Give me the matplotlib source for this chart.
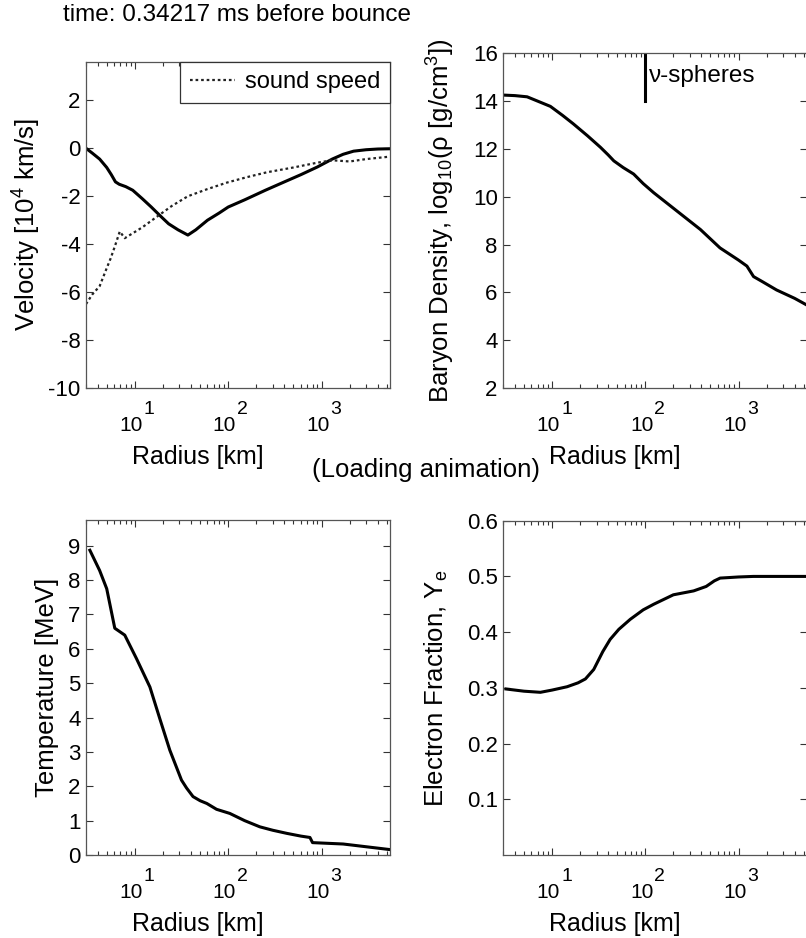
import numpy as np
import matplotlib
matplotlib.use("Agg")
import matplotlib.pyplot as plt
from matplotlib.ticker import FixedLocator, NullFormatter, LogLocator

plt.rcParams['font.family'] = ['Liberation Sans', 'DejaVu Sans']
plt.rcParams['mathtext.fontset'] = 'custom'
plt.rcParams['mathtext.rm'] = 'Liberation Sans'
plt.rcParams['mathtext.it'] = 'Liberation Sans:italic'
plt.rcParams['axes.unicode_minus'] = False
plt.rcParams['font.size'] = 16

# velocity profile [10^4 km/s]
vel_r = [3.0, 3.5, 4.2, 5.0, 5.6, 6.2, 6.8, 8.0, 9.5, 12, 15, 18.5, 23, 29, 37,
         45, 60, 80, 100, 150, 250, 400, 600, 900, 1300, 1700, 2200, 3000, 4000, 5300]
vel = [0.0, -0.2, -0.45, -0.8, -1.1, -1.4, -1.5, -1.6, -1.75, -2.1, -2.45, -2.8, -3.15, -3.4, -3.62,
       -3.4, -3.0, -2.7, -2.45, -2.15, -1.75, -1.4, -1.1, -0.78, -0.45, -0.25, -0.12, -0.06, -0.03, -0.02]

# sound speed (plotted negative)
cs_r = [3.0, 3.5, 4.2, 5.0, 5.5, 6.1, 6.9, 7.8, 9, 12, 18, 25, 37, 60, 97, 160, 260, 500, 900,
        1300, 2000, 3000, 5300]
cs = [-6.5, -6.1, -5.75, -5.0, -4.6, -4.1, -3.47, -3.75, -3.6, -3.3, -2.8, -2.4, -2.0, -1.7, -1.43,
      -1.2, -1.0, -0.8, -0.6, -0.5, -0.55, -0.45, -0.35]

# log10 density
rho_r = [3.1, 4, 5.4, 7, 9.6, 13, 16.9, 24, 33, 40, 46, 58, 75, 95, 123, 219, 390, 633, 1000,
         1230, 1450, 1800, 2560, 4000, 5400]
rho = [14.25, 14.23, 14.18, 14.0, 13.78, 13.4, 13.05, 12.55, 12.07, 11.75, 11.5, 11.22, 10.95,
       10.55, 10.17, 9.4, 8.63, 7.86, 7.35, 7.1, 6.66, 6.45, 6.1, 5.75, 5.47]

# temperature [MeV]
temp_r = [3.3, 4.2, 5.0, 6.1, 7.8, 10.4, 14.5, 18.5, 23.7, 31.6, 35.8, 42, 50, 59, 75, 104, 150,
          218, 300, 424, 600, 750, 800, 1700, 3000, 5300]
temp = [8.87, 8.28, 7.75, 6.6, 6.4, 5.72, 4.89, 3.97, 3.05, 2.18, 1.95, 1.7, 1.58, 1.5, 1.33,
        1.21, 1.0, 0.82, 0.72, 0.63, 0.55, 0.51, 0.36, 0.32, 0.24, 0.16]

# electron fraction
ye_r = [3.2, 5, 7.5, 10, 14.5, 19, 22.8, 28, 35, 42, 52, 69, 95, 123, 200, 330, 450, 550, 635,
        800, 1000, 1440, 5400]
ye = [0.298, 0.294, 0.292, 0.296, 0.302, 0.309, 0.316, 0.333, 0.365, 0.387, 0.405, 0.423, 0.44,
      0.45, 0.467, 0.474, 0.482, 0.492, 0.497, 0.498, 0.499, 0.5, 0.5]

decades = [1, 2, 3]
nu_sphere_r = 100
nu_sphere_rho = [14, 16]

W, H = 806, 938
fig = plt.figure(figsize=(W / 100, H / 100), dpi=100)


def make_axes(x0, top, bottom, width):
    return fig.add_axes([x0 / W, (H - bottom) / H, width / W, (bottom - top) / H])


def style(ax, ylabel, ylab_dx):
    ax.set_xscale('log')
    ax.set_xlim(3, 5400)
    ax.xaxis.set_major_locator(FixedLocator([10.0 ** d for d in decades]))
    ax.xaxis.set_major_formatter(NullFormatter())
    ax.xaxis.set_minor_locator(LogLocator(base=10, subs=np.arange(2, 10)))
    ax.xaxis.set_minor_formatter(NullFormatter())
    ax.tick_params(which='both', direction='in', top=True, right=True, color='#333333')
    ax.tick_params(which='major', length=5, width=0.8, pad=4, labelsize=16)
    ax.tick_params(which='minor', length=3, width=0.8)
    for s in ax.spines.values():
        s.set_color('#555555')
        s.set_linewidth(0.9)
    # MATLAB-style 10^n labels, exponent nearly full size
    for d in decades:
        ax.annotate('10', xy=(10.0 ** d, 0), xycoords=('data', 'axes fraction'),
                    xytext=(8, -28), textcoords='offset pixels', ha='right', va='top',
                    fontsize=15)
        ax.annotate(str(d), xy=(10.0 ** d, 0), xycoords=('data', 'axes fraction'),
                    xytext=(9, -13), textcoords='offset pixels', ha='left', va='top',
                    fontsize=14)
    bb = ax.get_position()
    ax.set_xlabel('Radius [km]', fontsize=18, va='center')
    ax.xaxis.set_label_coords(0.368, -69 / (bb.height * H))
    ax.set_ylabel(ylabel, fontsize=18.5, va='center')
    ax.yaxis.set_label_coords(ylab_dx / (bb.width * W), 0.5)


ax1 = make_axes(86, 62, 388, 304)
ax1.plot(vel_r, vel, color='black', lw=2.2)
ax1.plot(cs_r, cs, color='#222222', lw=1.6, ls=(0, (1.2, 1.3)), label='sound speed')
ax1.set_ylim(-10, 3.6)
ax1.set_yticks([2, 0, -2, -4, -6, -8, -10])
style(ax1, 'Velocity [10$^4$ km/s]', -59)
leg = ax1.legend(loc='upper right', borderaxespad=0, fancybox=False, framealpha=1,
                 handlelength=1.9, handletextpad=0.45, borderpad=0.4, fontsize=17)
leg.get_frame().set_edgecolor('#333333')
leg.get_frame().set_linewidth(0.9)

ax2 = make_axes(503.3, 53.3, 388, 303.5)
ax2.plot(rho_r, rho, color='black', lw=2.2)
ax2.plot([nu_sphere_r, nu_sphere_r], nu_sphere_rho, color='black', lw=2.2)
ax2.text(nu_sphere_r * 1.1, 15.05, 'ν-spheres', ha='left', va='center', fontsize=17.5)
ax2.set_ylim(2, 16)
ax2.set_yticks(np.arange(2, 17, 2))
style(ax2, 'Baryon Density, log$_{10}$(ρ [g/cm$^3$])', -62)

ax3 = make_axes(86, 520, 855, 304)
ax3.plot(temp_r, temp, color='black', lw=2.2)
ax3.set_ylim(0, 9.75)
ax3.set_yticks(range(0, 10))
style(ax3, 'Temperature [MeV]', -39)

ax4 = make_axes(503.3, 520.7, 855, 303.5)
ax4.plot(ye_r, ye, color='black', lw=2.2)
ax4.set_ylim(0, 0.6)
ax4.set_yticks([0.1, 0.2, 0.3, 0.4, 0.5, 0.6])
style(ax4, 'Electron Fraction, Y$_\\mathrm{e}$', -67)

fig.text(63 / W, 1 - 15 / H, 'time: 0.34217 ms before bounce', ha='left', va='center',
         fontsize=17.5)
fig.text(426 / W, 1 - 470 / H, '(Loading animation)', ha='center', va='center', fontsize=18.5)

fig.savefig('out.png', dpi=100)
